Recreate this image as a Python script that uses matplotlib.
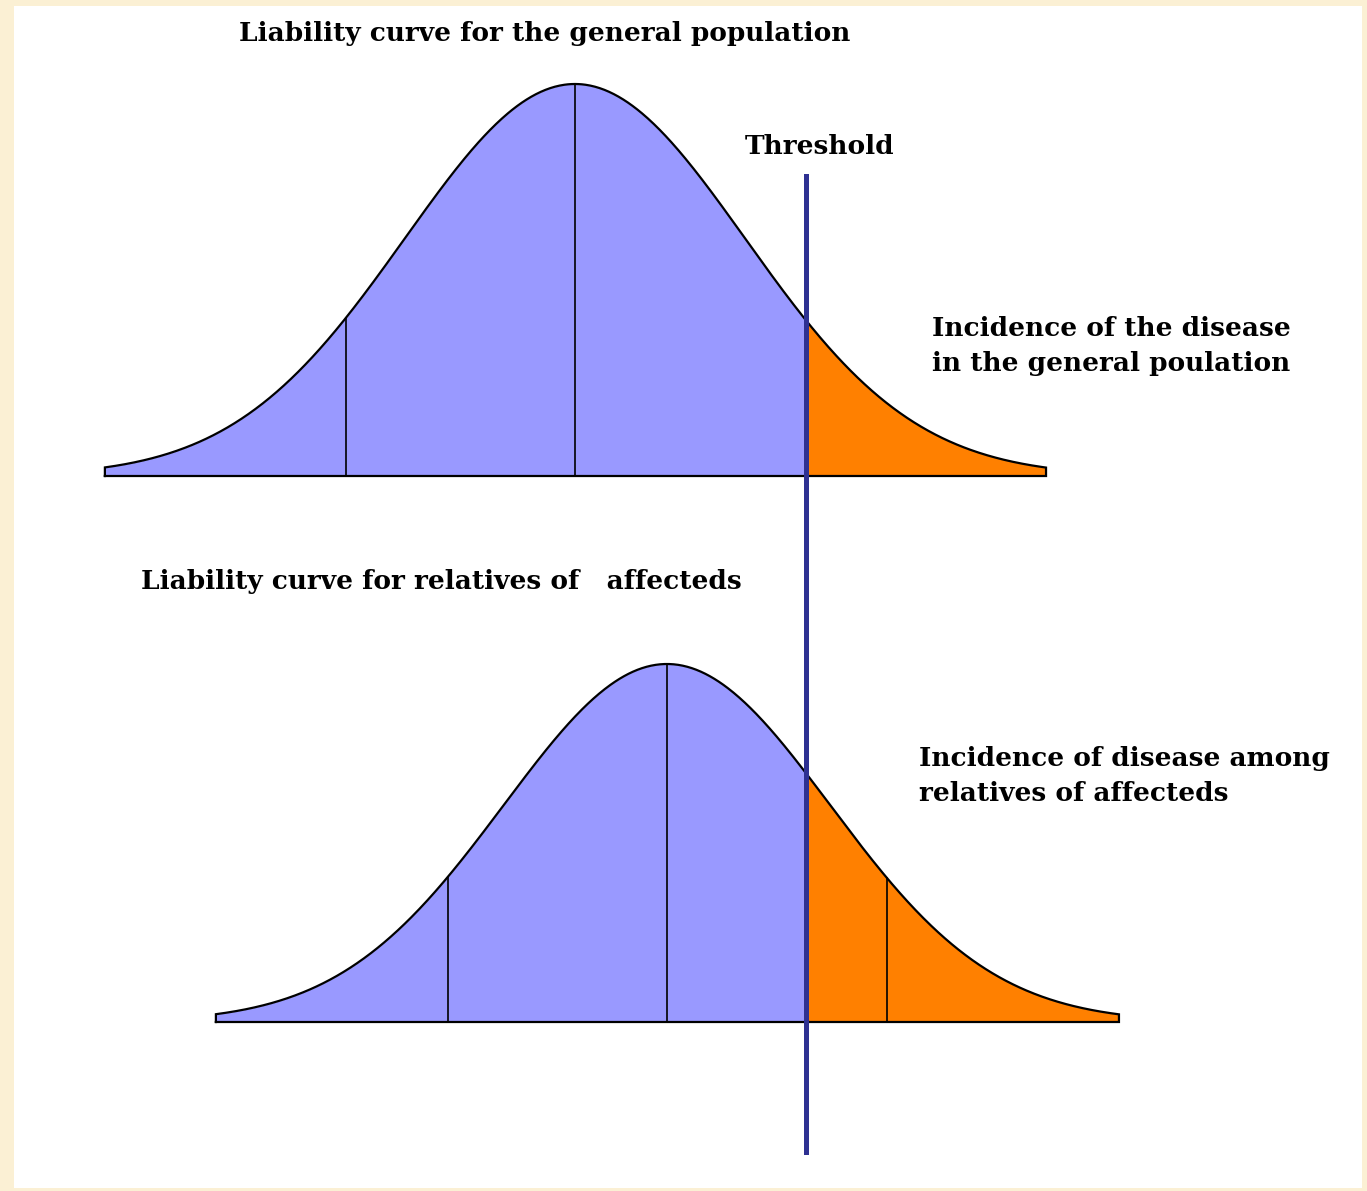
import numpy as np
import matplotlib
matplotlib.use("Agg")
import matplotlib.pyplot as plt
from matplotlib.patches import Rectangle
from matplotlib.lines import Line2D
from matplotlib.transforms import blended_transform_factory

# ---- data (liability units; general population sd = 1) ----
general_mean = 0.0
general_sd = 1.0
general_range = [-2.765, 2.771]
general_markers = [-1.347, 0.0]

relatives_mean = 0.541
relatives_sd = 0.959
relatives_range = [-2.112, 3.200]
relatives_markers = [-0.747, 0.541, 1.835]

threshold = 1.36

titles = ["Liability curve for the general population",
          "Liability curve for relatives of   affecteds"]
threshold_label = "Threshold"
incidence_labels = ["Incidence of the disease\nin the general poulation",
                    "Incidence of disease among\nrelatives of affecteds"]

# ---- style ----
BLUE = "#9999FF"
ORANGE = "#FF8000"
LINE_BLUE = "#2E3192"
BG = "#FBF0D4"
W, H = 1367, 1191
XLIM = (-3.382, 4.659)

fig = plt.figure(figsize=(W / 100, H / 100), dpi=100, facecolor=BG)
# white panel
fig.patches.append(Rectangle((14 / W, 1 - 1188 / H), (1362 - 14) / W, (1188 - 6) / H,
                             transform=fig.transFigure, facecolor="white",
                             edgecolor="none", zorder=-10))


def pdf(x, m, s):
    return np.exp(-0.5 * ((x - m) / s) ** 2)


def draw_curve(rect, mean, sd, rng, markers):
    ax = fig.add_axes(rect)
    ax.set_xlim(*XLIM)
    ax.set_ylim(0, 1)
    ax.axis("off")
    ax.set_zorder(1)
    x = np.linspace(rng[0], rng[1], 800)
    y = pdf(x, mean, sd)
    ax.fill_between(x, 0, y, where=x <= threshold, color=BLUE, lw=0, interpolate=True)
    ax.fill_between(x, 0, y, where=x >= threshold, color=ORANGE, lw=0, interpolate=True)
    ox = np.concatenate([[x[0]], x, [x[-1], x[0]]])
    oy = np.concatenate([[0], y, [0, 0]])
    ax.plot(ox, oy, color="black", lw=1.6, clip_on=False, solid_joinstyle="miter")
    for mk in markers:
        ax.plot([mk, mk], [0, pdf(mk, mean, sd)], color="black", lw=1.2, clip_on=False)
    return ax


ax1 = draw_curve([0, 1 - 476 / H, 1, (476 - 84) / H],
                 general_mean, general_sd, general_range, general_markers)
ax2 = draw_curve([0, 1 - 1022 / H, 1, (1022 - 664) / H],
                 relatives_mean, relatives_sd, relatives_range, relatives_markers)

# threshold line spanning both curves
tr = blended_transform_factory(ax1.transData, fig.transFigure)
fig.lines.append(Line2D([threshold, threshold], [1 - 176 / H, 1 - 1152 / H],
                        transform=tr, color=LINE_BLUE, lw=3.6, zorder=5))

font = dict(family="DejaVu Serif", weight="bold", color="black")
FS = 19
fig.text(239 / W, 1 - 33 / H, titles[0], ha="left", va="center", fontsize=FS, **font)
fig.text(141 / W, 1 - 582 / H, titles[1], ha="left", va="center", fontsize=FS, **font)
fig.text(745 / W, 1 - 147 / H, threshold_label, ha="left", va="center", fontsize=FS, **font)
fig.text(932 / W, 1 - 346 / H, incidence_labels[0], ha="left", va="center",
         fontsize=FS, linespacing=1.47, **font)
fig.text(919 / W, 1 - 776 / H, incidence_labels[1], ha="left", va="center",
         fontsize=FS, linespacing=1.47, **font)

fig.savefig("out.png", dpi=100, facecolor=BG)
